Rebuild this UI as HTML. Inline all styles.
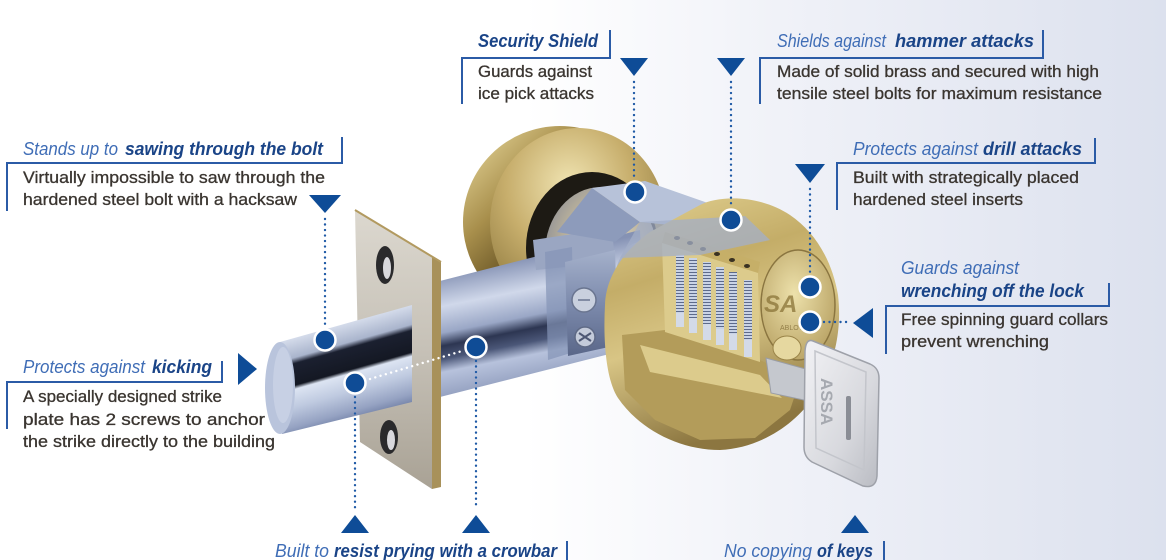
<!DOCTYPE html>
<html><head><meta charset="utf-8"><style>
html,body{margin:0;padding:0;width:1166px;height:560px;overflow:hidden;background:#fff}
svg{display:block}
.h{font-family:"Liberation Sans",sans-serif;font-style:italic;font-size:18px}
.hl{fill:#3f6db6}
.hb{fill:#1a4487;font-weight:bold}
.b{font-family:"Liberation Sans",sans-serif;font-size:16.5px;fill:#3a3530;stroke:#3a3530;stroke-width:0.3}
</style></head><body>
<svg width="1166" height="560" viewBox="0 0 1166 560" xmlns="http://www.w3.org/2000/svg">
<defs>
<linearGradient id="bg" x1="0" y1="0" x2="1166" y2="0" gradientUnits="userSpaceOnUse">
<stop offset="0" stop-color="#fff"/><stop offset="0.45" stop-color="#fff"/><stop offset="0.7" stop-color="#eef0f7"/><stop offset="1" stop-color="#dce1ee"/></linearGradient>
<linearGradient id="rim" x1="0" y1="0" x2="1" y2="1">
<stop offset="0" stop-color="#efe0a4"/><stop offset="0.3" stop-color="#a88f4c"/><stop offset="0.5" stop-color="#6a5626"/><stop offset="0.7" stop-color="#d4c07e"/><stop offset="1" stop-color="#857036"/></linearGradient>
<radialGradient id="face" cx="0.45" cy="0.3" r="0.8">
<stop offset="0" stop-color="#f0e4b2"/><stop offset="0.45" stop-color="#c7ae6c"/><stop offset="1" stop-color="#7e6a32"/></radialGradient>
<radialGradient id="hub" cx="0.55" cy="0.45" r="0.6">
<stop offset="0" stop-color="#e0d8c2"/><stop offset="0.6" stop-color="#bdb49c"/><stop offset="1" stop-color="#8e8f96"/></radialGradient>
<linearGradient id="house" x1="470" y1="268" x2="495" y2="395" gradientUnits="userSpaceOnUse">
<stop offset="0" stop-color="#8592b4"/><stop offset="0.25" stop-color="#d0d8ea"/><stop offset="0.45" stop-color="#9aa7c6"/><stop offset="0.55" stop-color="#2d3652"/><stop offset="0.65" stop-color="#4b5778"/><stop offset="0.75" stop-color="#b7c2dc"/><stop offset="1" stop-color="#8a97b8"/></linearGradient>
<linearGradient id="bolt" x1="350" y1="322" x2="376" y2="414" gradientUnits="userSpaceOnUse">
<stop offset="0" stop-color="#d5dceb"/><stop offset="0.2" stop-color="#a9b4cc"/><stop offset="0.26" stop-color="#1b2030"/><stop offset="0.48" stop-color="#141823"/><stop offset="0.52" stop-color="#dce4f2"/><stop offset="0.7" stop-color="#bfcae0"/><stop offset="0.9" stop-color="#95a2c2"/><stop offset="1" stop-color="#7483a8"/></linearGradient>
<linearGradient id="plate" x1="0" y1="0" x2="0" y2="1">
<stop offset="0" stop-color="#dcd8cf"/><stop offset="0.5" stop-color="#c6c1b7"/><stop offset="1" stop-color="#a9a295"/></linearGradient>
<linearGradient id="cyl" x1="0" y1="0" x2="0.3" y2="1">
<stop offset="0" stop-color="#e2d192"/><stop offset="0.35" stop-color="#c4ad68"/><stop offset="0.6" stop-color="#d8c585"/><stop offset="1" stop-color="#8c7640"/></linearGradient>
<radialGradient id="cface" cx="0.45" cy="0.4" r="0.7">
<stop offset="0" stop-color="#ede1ab"/><stop offset="1" stop-color="#b49d5e"/></radialGradient>
<linearGradient id="mech" x1="0" y1="0" x2="0" y2="1">
<stop offset="0" stop-color="#a5b1cb"/><stop offset="0.5" stop-color="#7d8bad"/><stop offset="1" stop-color="#5a6789"/></linearGradient>
<linearGradient id="keyG" x1="0" y1="0" x2="1" y2="1">
<stop offset="0" stop-color="#f2f2f5"/><stop offset="0.6" stop-color="#d8d9de"/><stop offset="1" stop-color="#b9bbc2"/></linearGradient>
<pattern id="spring" width="8" height="3" patternUnits="userSpaceOnUse"><rect width="8" height="3" fill="#c9d3e6"/><rect y="2" width="8" height="1" fill="#5d6a8a"/></pattern>
</defs>
<rect width="1166" height="560" fill="url(#bg)"/>

<!-- Rosette -->
<ellipse cx="560" cy="222" rx="97" ry="96" fill="url(#rim)"/>
<ellipse cx="578" cy="223" rx="88" ry="95" fill="url(#face)"/>
<ellipse cx="592" cy="248" rx="66" ry="76" fill="#1d1a14"/>
<ellipse cx="601" cy="253" rx="56" ry="66" fill="url(#hub)"/>

<!-- Mechanism housing -->
<polygon points="436,282 640,230 645,345 440,397" fill="url(#house)"/>
<polygon points="533,240 612,228 615,262 536,270" fill="#9aa6c2"/>
<polygon points="545,252 572,247 574,352 548,360" fill="#8594b6" opacity="0.7"/>
<polygon points="565,262 615,250 618,345 568,356" fill="url(#mech)"/>
<circle cx="584" cy="300" r="12" fill="#c9d0de" stroke="#6a7590" stroke-width="1.5"/>
<line x1="578" y1="300" x2="590" y2="300" stroke="#6a7590" stroke-width="1.5"/>
<circle cx="585" cy="337" r="10" fill="#c4cbda" stroke="#5f6a86" stroke-width="1.5"/>
<path d="M579,333 L591,341 M591,333 L579,341" stroke="#4d5774" stroke-width="2"/>
<ellipse cx="640" cy="292" rx="27" ry="50" fill="#a7b1c7"/>
<circle cx="640" cy="295" r="7" fill="#222"/>
<circle cx="652" cy="268" r="3" fill="#333"/>

<!-- Shield -->
<polygon points="592,188 640,222 615,242 557,232" fill="#8d9bbb"/>
<polygon points="592,188 645,181 745,216 700,228 640,222" fill="#b7c2d9"/>

<!-- Brass cylinder -->
<path d="M605,305 C606,275 625,250 650,232 L700,205 C720,195 760,195 790,215 C815,232 832,260 838,295 C842,330 835,365 815,395 C795,425 760,448 720,450 C680,450 640,430 618,398 C606,380 603,340 605,305 Z" fill="url(#cyl)"/>
<polygon points="622,335 665,330 760,360 800,380 790,410 755,438 700,440 655,420 625,390" fill="#b39c5a"/>
<polygon points="640,345 760,375 782,398 650,372" fill="#dccb8c"/>
<polygon points="665,232 760,262 758,273 662,243" fill="#c6af68"/>
<polygon points="662,243 758,273 760,362 665,332" fill="#dccb8c"/>
<g fill="#3a3222">
<ellipse cx="677" cy="238" rx="3" ry="2"/><ellipse cx="690" cy="243" rx="3" ry="2"/><ellipse cx="703" cy="249" rx="3" ry="2"/><ellipse cx="717" cy="254" rx="3" ry="2"/><ellipse cx="732" cy="260" rx="3" ry="2"/><ellipse cx="747" cy="266" rx="3" ry="2"/>
</g>
<g>
<rect x="676" y="255" width="8" height="58" fill="url(#spring)"/><rect x="676" y="313" width="8" height="14" fill="#d3dae8"/>
<rect x="689" y="258" width="8" height="60" fill="url(#spring)"/><rect x="689" y="318" width="8" height="15" fill="#d3dae8"/>
<rect x="703" y="262" width="8" height="62" fill="url(#spring)"/><rect x="703" y="324" width="8" height="16" fill="#d3dae8"/>
<rect x="716" y="267" width="8" height="62" fill="url(#spring)"/><rect x="716" y="329" width="8" height="16" fill="#d3dae8"/>
<rect x="729" y="272" width="8" height="62" fill="url(#spring)"/><rect x="729" y="334" width="8" height="16" fill="#d3dae8"/>
<rect x="744" y="280" width="8" height="60" fill="url(#spring)"/><rect x="744" y="340" width="8" height="17" fill="#d3dae8"/>
</g>
<ellipse cx="798" cy="305" rx="37" ry="55" fill="url(#cface)" stroke="#8a7540" stroke-width="1.5"/>
<text x="764" y="312" font-family="Liberation Sans,sans-serif" font-size="24" font-style="italic" font-weight="bold" fill="#8a7438" opacity="0.75">SA</text>
<text x="780" y="330" font-family="Liberation Sans,sans-serif" font-size="7" fill="#7a6430" opacity="0.7">ABLOY</text>
<ellipse cx="787" cy="348" rx="14" ry="12" fill="#e6d8a0" stroke="#9a8448" stroke-width="1"/>

<!-- Shield bar over cylinder -->
<polygon points="640,222 745,216 770,240 700,255 620,258" fill="#a3afc8" opacity="0.75"/>

<!-- Key -->
<polygon points="766,358 813,371 813,402 771,393" fill="#c5c8ce" stroke="#9a9da5" stroke-width="1"/>
<path d="M813,341 L870,364 Q879,368 879,378 L877,476 Q876,489 863,486 L812,462 Q804,457 804,447 L805,351 Q806,338 813,341 Z" fill="url(#keyG)" stroke="#9ea1a9" stroke-width="1.5"/>
<path d="M815,351 L866,372 L864,470 L816,448 Z" fill="none" stroke="#c3c5cb" stroke-width="1.5"/>
<text transform="translate(821,378) rotate(90)" font-family="Liberation Sans,sans-serif" font-size="17" font-weight="bold" fill="#a6a9b0">ASSA</text>
<rect x="846" y="396" width="5" height="44" rx="2" fill="#8a8d95"/>

<!-- Strike plate -->
<polygon points="355,210 432,257 432,489 360,442" fill="url(#plate)"/>
<polygon points="432,257 441,262 441,487 432,489" fill="#a8915a"/>
<line x1="355" y1="210" x2="441" y2="262" stroke="#b29a60" stroke-width="2"/>
<ellipse cx="385" cy="265" rx="9" ry="19" fill="#2a2a2c"/>
<ellipse cx="387" cy="268" rx="4" ry="11" fill="#d8d8dc"/>
<ellipse cx="389" cy="437" rx="9" ry="17" fill="#2a2a2c"/>
<ellipse cx="391" cy="440" rx="4" ry="10" fill="#d8d8dc"/>

<!-- Bolt -->
<polygon points="280,342 412,305 412,402 282,434" fill="url(#bolt)"/>
<ellipse cx="280" cy="388" rx="15" ry="46" fill="#b9c4dc"/>
<ellipse cx="283" cy="385" rx="10" ry="38" fill="#c7d0e4"/>

<!-- Dotted connectors -->
<g stroke="#1f5aa6" stroke-width="2.4" stroke-linecap="round" stroke-dasharray="0.01 5.5" fill="none">
<line x1="325" y1="219" x2="325" y2="327"/>
<line x1="355" y1="397" x2="355" y2="508"/>
<line x1="476" y1="361" x2="476" y2="508"/>
<line x1="634" y1="82" x2="634" y2="180"/>
<line x1="731" y1="82" x2="731" y2="207"/>
<line x1="810" y1="189" x2="810" y2="274"/>
<line x1="824" y1="322" x2="851" y2="322"/>
</g>
<line x1="370" y1="379" x2="462" y2="351" stroke="#fff" stroke-width="2.4" stroke-linecap="round" stroke-dasharray="0.01 5.5"/>

<!-- Circles -->
<g fill="#0f4c96" stroke="#fff" stroke-width="2.5">
<circle cx="325" cy="340" r="10.5"/>
<circle cx="355" cy="383" r="10.5"/>
<circle cx="476" cy="347" r="10.5"/>
<circle cx="635" cy="192" r="10.5"/>
<circle cx="731" cy="220" r="10.5"/>
<circle cx="810" cy="287" r="10.5"/>
<circle cx="810" cy="322" r="10.5"/>
</g>

<!-- Triangles -->
<g fill="#0e4c97">
<polygon points="620,58 648,58 634,76"/>
<polygon points="717,58 745,58 731,76"/>
<polygon points="309,195 341,195 325,213"/>
<polygon points="795,164 825,164 810,183"/>
<polygon points="238,353 257,369 238,385"/>
<polygon points="873,308 873,338 853,323"/>
<polygon points="341,533 369,533 355,515"/>
<polygon points="462,533 490,533 476,515"/>
<polygon points="841,533 869,533 855,515"/>
</g>

<!-- Brackets -->
<g stroke="#2b5ba6" stroke-width="2" fill="none">
<path d="M610,30 V58 H462 V104"/>
<path d="M1043,30 V58 H760 V104"/>
<path d="M342,137 V163 H7 V211"/>
<path d="M1095,138 V163 H837 V210"/>
<path d="M1109,283 V306 H886 V354"/>
<path d="M222,361 V382 H7 V429"/>
<path d="M567,541 V560"/>
<path d="M884,541 V560"/>
</g>

<!-- Headings -->
<text class="h hb" x="478" y="47" textLength="120" lengthAdjust="spacingAndGlyphs">Security Shield</text>
<text class="h hl" x="777" y="47" textLength="109" lengthAdjust="spacingAndGlyphs">Shields against</text>
<text class="h hb" x="895" y="47" textLength="139" lengthAdjust="spacingAndGlyphs">hammer attacks</text>
<text class="h hl" x="23" y="155" textLength="95" lengthAdjust="spacingAndGlyphs">Stands up to</text>
<text class="h hb" x="125" y="155" textLength="198" lengthAdjust="spacingAndGlyphs">sawing through the bolt</text>
<text class="h hl" x="853" y="155" textLength="125" lengthAdjust="spacingAndGlyphs">Protects against</text>
<text class="h hb" x="983" y="155" textLength="99" lengthAdjust="spacingAndGlyphs">drill attacks</text>
<text class="h hl" x="901" y="274" textLength="118" lengthAdjust="spacingAndGlyphs">Guards against</text>
<text class="h hb" x="901" y="297" textLength="183" lengthAdjust="spacingAndGlyphs">wrenching off the lock</text>
<text class="h hl" x="23" y="373" textLength="122" lengthAdjust="spacingAndGlyphs">Protects against</text>
<text class="h hb" x="152" y="373" textLength="60" lengthAdjust="spacingAndGlyphs">kicking</text>
<text class="h hl" x="275" y="557" textLength="54" lengthAdjust="spacingAndGlyphs">Built to</text>
<text class="h hb" x="334" y="557" textLength="223" lengthAdjust="spacingAndGlyphs">resist prying with a crowbar</text>
<text class="h hl" x="724" y="557" textLength="88" lengthAdjust="spacingAndGlyphs">No copying</text>
<text class="h hb" x="817" y="557" textLength="56" lengthAdjust="spacingAndGlyphs">of keys</text>

<!-- Body -->
<text class="b" x="478" y="77" textLength="114" lengthAdjust="spacingAndGlyphs">Guards against</text>
<text class="b" x="478" y="99" textLength="116" lengthAdjust="spacingAndGlyphs">ice pick attacks</text>
<text class="b" x="777" y="77" textLength="322" lengthAdjust="spacingAndGlyphs">Made of solid brass and secured with high</text>
<text class="b" x="777" y="99" textLength="325" lengthAdjust="spacingAndGlyphs">tensile steel bolts for maximum resistance</text>
<text class="b" x="23" y="183" textLength="302" lengthAdjust="spacingAndGlyphs">Virtually impossible to saw through the</text>
<text class="b" x="23" y="205" textLength="274" lengthAdjust="spacingAndGlyphs">hardened steel bolt with a hacksaw</text>
<text class="b" x="853" y="183" textLength="226" lengthAdjust="spacingAndGlyphs">Built with strategically placed</text>
<text class="b" x="853" y="205" textLength="170" lengthAdjust="spacingAndGlyphs">hardened steel inserts</text>
<text class="b" x="901" y="325" textLength="207" lengthAdjust="spacingAndGlyphs">Free spinning guard collars</text>
<text class="b" x="901" y="347" textLength="148" lengthAdjust="spacingAndGlyphs">prevent wrenching</text>
<text class="b" x="23" y="402" textLength="199" lengthAdjust="spacingAndGlyphs">A specially designed strike</text>
<text class="b" x="23" y="425" textLength="242" lengthAdjust="spacingAndGlyphs">plate has 2 screws to anchor</text>
<text class="b" x="23" y="447" textLength="252" lengthAdjust="spacingAndGlyphs">the strike directly to the building</text>
</svg>
</body></html>
